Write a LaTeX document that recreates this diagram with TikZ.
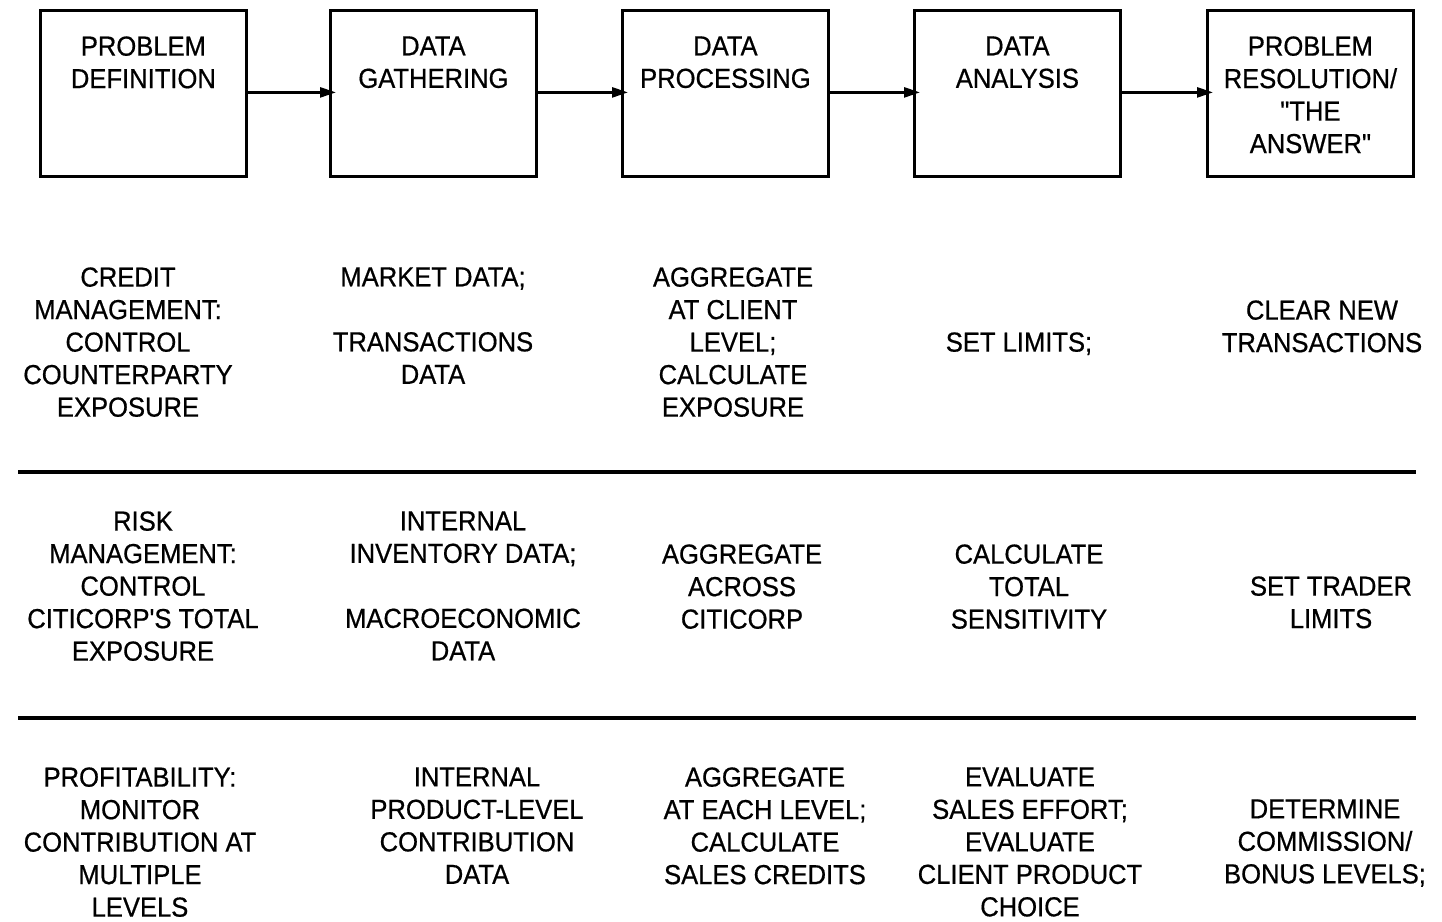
\documentclass[tikz,border=0pt]{standalone}
\usepackage{fontspec}
% plain quotes and apostrophes: no TeX ligature mapping on this family
\newfontfamily\lblfont{Liberation Sans}[FakeStretch=0.93,FakeBold=0.6]
\usetikzlibrary{arrows.meta}
\begin{document}
\begin{tikzpicture}[x=1pt,y=-1pt,
  stage/.style={draw, line width=2.8pt, minimum width=206pt, minimum height=166pt,
                inner sep=0pt, anchor=north west},
  lbl/.style={align=center, inner sep=0pt, anchor=north,
              font=\lblfont\fontsize{27.5}{32.5}\selectfont},
  flow/.style={line width=2.6pt, -{Triangle[length=16pt,width=10pt]}},
  rule/.style={line width=3.8pt}]
\useasboundingbox (0,0) rectangle (1442,921);

% process stages
\node[stage] (b1) at (39,9) {};
\node[stage] (b2) at (329,9) {};
\node[stage] (b3) at (621,9) {};
\node[stage] (b4) at (913,9) {};
\node[stage] (b5) at (1206,9) {};

\node[lbl] (t1) at ([yshift=-27.2pt]b1.north) {PROBLEM\\DEFINITION};
\node[lbl] (t2) at ([yshift=-27.2pt]b2.north) {DATA\\GATHERING};
\node[lbl] (t3) at ([yshift=-27.2pt]b3.north) {DATA\\PROCESSING};
\node[lbl] (t4) at ([yshift=-27.2pt]b4.north) {DATA\\ANALYSIS};
\node[lbl] (t5) at ([yshift=-27.2pt]b5.north) {PROBLEM\\RESOLUTION/\\"THE\\ANSWER"};

% flow between stages
\draw[flow] ([yshift=1pt]b1.east) -- ([xshift=7pt,yshift=1pt]b2.west);
\draw[flow] ([yshift=1pt]b2.east) -- ([xshift=7pt,yshift=1pt]b3.west);
\draw[flow] ([yshift=1pt]b3.east) -- ([xshift=7pt,yshift=1pt]b4.west);
\draw[flow] ([yshift=1pt]b4.east) -- ([xshift=7pt,yshift=1pt]b5.west);

% credit management
\node[lbl] (c1) at (128,267.2) {CREDIT\\MANAGEMENT:\\CONTROL\\COUNTERPARTY\\EXPOSURE};
\node[lbl] (c2) at (433,267.2) {MARKET DATA;\\[32.5pt]TRANSACTIONS\\DATA};
\node[lbl] (c3) at (733,267.2) {AGGREGATE\\AT CLIENT\\LEVEL;\\CALCULATE\\EXPOSURE};
\node[lbl] (c4) at (1019,332.2) {SET LIMITS;};
\node[lbl] (c5) at (1322,300.2) {CLEAR NEW\\TRANSACTIONS};

\draw[rule] (18,472) -- (1416,472);

% risk management
\node[lbl] (r1) at (143,511.2) {RISK\\MANAGEMENT:\\CONTROL\\CITICORP'S TOTAL\\EXPOSURE};
\node[lbl] (r2) at (463,511.2) {INTERNAL\\INVENTORY DATA;\\[32.5pt]MACROECONOMIC\\DATA};
\node[lbl] (r3) at (742,544.2) {AGGREGATE\\ACROSS\\CITICORP};
\node[lbl] (r4) at (1029,544.2) {CALCULATE\\TOTAL\\SENSITIVITY};
\node[lbl] (r5) at (1331,576.2) {SET TRADER\\LIMITS};

\draw[rule] (18,718) -- (1416,718);

% profitability
\node[lbl] (p1) at (140,767.2) {PROFITABILITY:\\MONITOR\\CONTRIBUTION AT\\MULTIPLE\\LEVELS};
\node[lbl] (p2) at (477,767.2) {INTERNAL\\PRODUCT-LEVEL\\CONTRIBUTION\\DATA};
\node[lbl] (p3) at (765,767.2) {AGGREGATE\\AT EACH LEVEL;\\CALCULATE\\SALES CREDITS};
\node[lbl] (p4) at (1030,767.2) {EVALUATE\\SALES EFFORT;\\EVALUATE\\CLIENT PRODUCT\\CHOICE};
\node[lbl] (p5) at (1325,799.2) {DETERMINE\\COMMISSION/\\BONUS LEVELS;};
\end{tikzpicture}
\end{document}
